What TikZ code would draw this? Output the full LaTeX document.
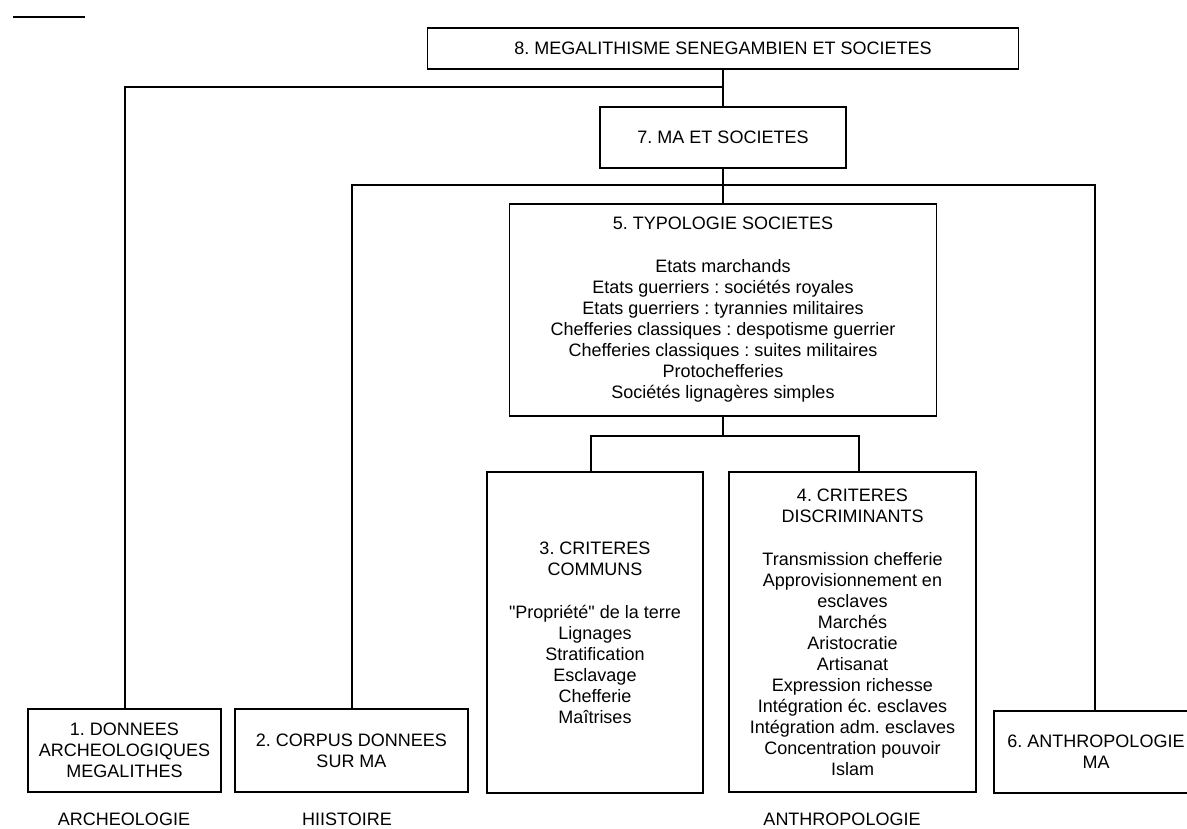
\documentclass[tikz,border=0pt]{standalone}
\usepackage{fontspec}
\setmainfont{Liberation Sans}
% same face without TeX ligature mapping, for straight double quotes
\newfontfamily\plainfont{Liberation Sans}
\newcommand{\sq}{{\plainfont"}}
\frenchspacing
\begin{document}
\begin{tikzpicture}[x=1pt,y=-1pt,
  box/.style={draw=black, line width=1.2pt, inner sep=0pt, align=center,
    font=\fontsize{18}{21}\selectfont, anchor=center},
  link/.style={draw=black, line width=1.2pt},
  lbl/.style={font=\fontsize{18}{21}\selectfont, inner sep=0pt, anchor=center}]
\useasboundingbox (0,0) rectangle (1187,828);
\clip (0,0) rectangle (1187,828);

% short rule at the top left
\draw[link] (13,17) -- (85,17);

% boxes
\node[box, minimum width=591pt, minimum height=41pt] (b8) at (723,48.5)
  {8. MEGALITHISME SENEGAMBIEN ET SOCIETES};
\node[box, minimum width=246pt, minimum height=61pt] (b7) at (723,137.5)
  {7. MA ET SOCIETES};
\node[box, minimum width=427pt, minimum height=212pt] (b5) at (723,310)
  {5. TYPOLOGIE SOCIETES\\[22pt]
   Etats marchands\\
   Etats guerriers : sociétés royales\\
   Etats guerriers : tyrannies militaires\\
   Chefferies classiques : despotisme guerrier\\
   Chefferies classiques : suites militaires\\
   Protochefferies\\
   Sociétés lignagères simples};
\node[box, minimum width=216pt, minimum height=321pt] (b3) at (595,632.5)
  {3. CRITERES\\COMMUNS\\[22pt]
   \sq Propriété\sq{} de la terre\\
   Lignages\\
   Stratification\\
   Esclavage\\
   Chefferie\\
   Maîtrises};
\node[box, minimum width=247pt, minimum height=320pt] (b4) at (852.5,632)
  {4. CRITERES\\DISCRIMINANTS\\[22pt]
   Transmission chefferie\\
   Approvisionnement en\\
   esclaves\\
   Marchés\\
   Aristocratie\\
   Artisanat\\
   Expression richesse\\
   Intégration éc. esclaves\\
   Intégration adm. esclaves\\
   Concentration pouvoir\\
   Islam};
\node[box, minimum width=193pt, minimum height=83pt] (b1) at (124.5,750.5)
  {1. DONNEES\\ARCHEOLOGIQUES\\MEGALITHES};
\node[box, minimum width=233pt, minimum height=83pt] (b2) at (351.5,750.5)
  {2. CORPUS DONNEES\\SUR MA};
\node[box, minimum width=204pt, minimum height=82pt] (b6) at (1096,752)
  {6. ANTHROPOLOGIE\\MA};

% discipline labels
\node[lbl] (l1) at (124,819) {ARCHEOLOGIE};
\node[lbl] (l2) at (347,819) {HIISTOIRE};
\node[lbl] (l3) at (842,819) {ANTHROPOLOGIE};

% junction points
\coordinate (j8) at (723,87);
\coordinate (c1) at (125,87);
\coordinate (c2) at (352,185);
\coordinate (c6) at (1095,185);
\coordinate (j5) at (723,436);
\coordinate (c3) at (591,436);
\coordinate (c4) at (859,436);

% connectors
\draw[link] (b8) -- (b7);
\draw[link] (j8) -- (c1) -- (c1 |- b1.north);
\draw[link] (b7) -- (b5);
\draw[link] (c2 |- b2.north) -- (c2) -- (c6) -- (c6 |- b6.north);
\draw[link] (b5) -- (j5);
\draw[link] (c3 |- b3.north) -- (c3) -- (c4) -- (c4 |- b4.north);
\end{tikzpicture}
\end{document}
